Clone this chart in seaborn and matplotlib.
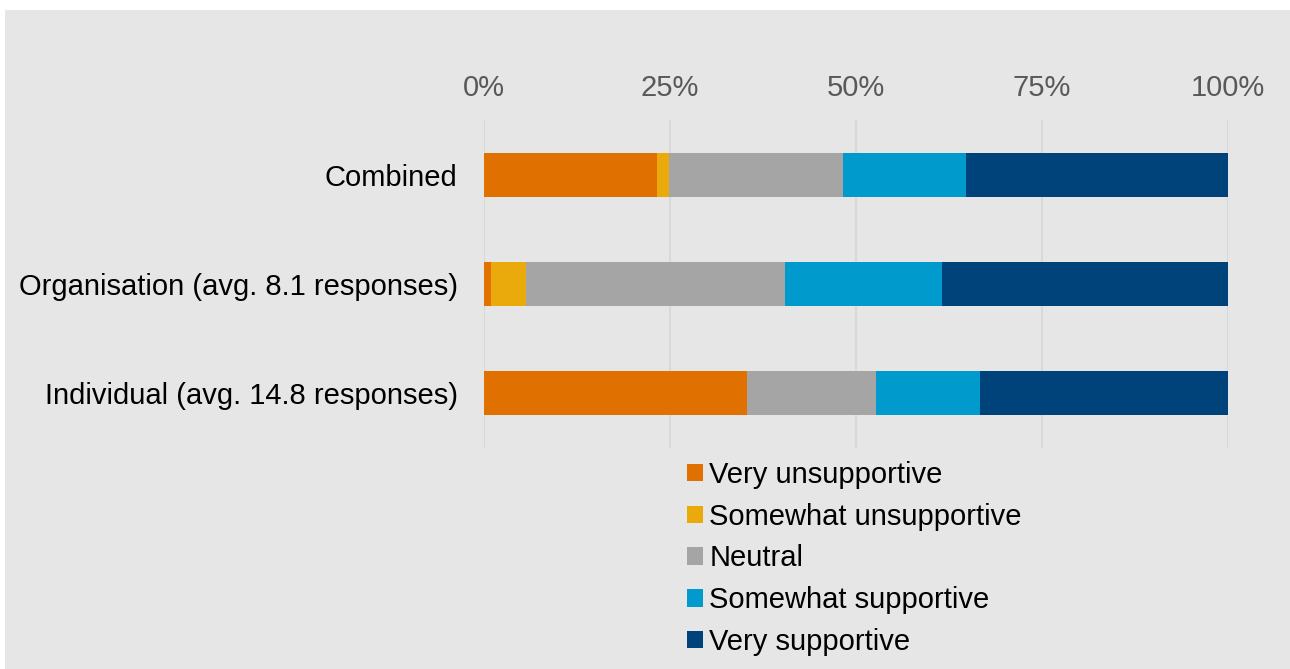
import numpy as np
import pandas as pd
import matplotlib
matplotlib.use("Agg")
import matplotlib.pyplot as plt
from matplotlib.patches import Rectangle, Patch
import seaborn as sns

categories = ["Combined", "Organisation (avg. 8.1 responses)", "Individual (avg. 14.8 responses)"]
series_names = ["Very unsupportive", "Somewhat unsupportive", "Neutral",
                "Somewhat supportive", "Very supportive"]
very_unsupportive = [23.2, 0.9, 35.4]
somewhat_unsupportive = [1.7, 4.7, 0.0]
neutral = [23.4, 34.8, 17.3]
somewhat_supportive = [16.5, 21.1, 13.9]
very_supportive = [35.2, 38.5, 33.4]
x_ticks = [0, 25, 50, 75, 100]
x_tick_labels = ["0%", "25%", "50%", "75%", "100%"]
colors = ["#E07000", "#EAAA0C", "#A5A5A5", "#009BCC", "#00437A"]

series = [very_unsupportive, somewhat_unsupportive, neutral,
          somewhat_supportive, very_supportive]
vals = np.array(series, dtype=float)
vals = vals / vals.sum(axis=0) * 100
cum = np.cumsum(vals, axis=0)

sns.set_theme(style="white")
plt.rcParams["font.family"] = ["Liberation Sans", "DejaVu Sans"]
plt.rcParams["text.color"] = "black"

FS = 21

fig = plt.figure(figsize=(12.9, 6.69), dpi=100, facecolor="white")
W, H = 1290, 669
fig.patches.append(Rectangle((5 / W, 0), 1 - 5 / W, 1 - 10 / H,
                             transform=fig.transFigure, facecolor="#E6E6E6",
                             edgecolor="none", zorder=-10))

ax = fig.add_axes([484 / W, 1 - 447.5 / H, (1228 - 484) / W, (447.5 - 120.5) / H])
ax.set_facecolor("none")

for i in range(len(series_names) - 1, -1, -1):
    df = pd.DataFrame({"category": categories, "value": cum[i]})
    sns.barplot(data=df, y="category", x="value", order=categories,
                color=colors[i], orient="h", width=0.395, ax=ax,
                saturation=1, linewidth=0, zorder=3)

ax.set_xlim(0, 100)
ax.set_ylim(2.5, -0.5)
ax.set_xticks(x_ticks)
ax.set_xticklabels(x_tick_labels)
ax.xaxis.tick_top()
ax.tick_params(axis="x", length=0, pad=13, labelsize=FS, labelcolor="#595959")
ax.tick_params(axis="y", length=0, pad=19, labelsize=FS, labelcolor="black")
ax.set_xlabel("")
ax.set_ylabel("")
ax.grid(axis="x", color="#D9D9D9", linewidth=1.5, zorder=0)
ax.set_axisbelow(True)
for s in ax.spines.values():
    s.set_visible(False)

handles = [Patch(facecolor=c, edgecolor="none", label=n) for c, n in zip(colors, series_names)]
leg = fig.legend(handles=handles, loc="upper left", bbox_to_anchor=(687 / W, 1 - 461 / H),
                 frameon=False, fontsize=FS, handlelength=0.55, handleheight=0.55,
                 handletextpad=0.22, labelspacing=0.47, borderaxespad=0, borderpad=0,
                 labelcolor="black")

fig.savefig("out.png", dpi=100, facecolor="white")
